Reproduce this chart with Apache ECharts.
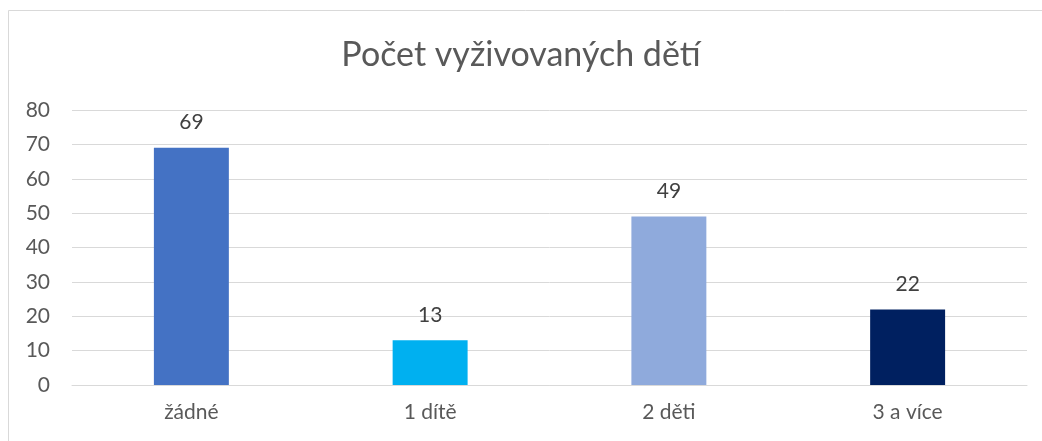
<!DOCTYPE html>
<html>
<head>
<meta charset="utf-8">
<script src="https://cdn.jsdelivr.net/npm/echarts@6/dist/echarts.min.js"></script>
<style>
  html, body { margin: 0; padding: 0; background: #fff; }
  #chart { width: 1042px; height: 441px; }
</style>
</head>
<body>
<div id="chart"></div>
<script>
const categories = ['žádné', '1 dítě', '2 děti', '3 a více']
const values = [69, 13, 49, 22]
const barColors = ['#4472C4', '#00B0F0', '#8FAADC', '#002060']
const yTicks = { min: 0, max: 80, interval: 10 }

const chart = echarts.init(document.getElementById('chart'))
const font = 'Lato, "Open Sans", sans-serif'

const option = {
  animation: false,
  backgroundColor: '#fff',
  title: {
    text: 'Počet vyživovaných dětí',
    left: 'center',
    top: 33,
    textStyle: {
      fontFamily: font,
      fontSize: 34,
      fontWeight: 'normal',
      color: '#595959'
    }
  },
  graphic: [
    {
      type: 'rect',
      shape: { x: 8.5, y: 10.5, width: 1100, height: 500 },
      style: { fill: 'none', stroke: '#D9D9D9', lineWidth: 1 },
      silent: true
    }
  ],
  grid: {
    left: 72,
    right: 15,
    top: 110,
    bottom: 56
  },
  xAxis: {
    type: 'category',
    data: categories,
    axisLine: { show: true, lineStyle: { color: '#D9D9D9', width: 1 } },
    axisTick: { show: false },
    axisLabel: {
      fontFamily: font,
      fontSize: 21,
      color: '#595959',
      margin: 17
    }
  },
  yAxis: {
    type: 'value',
    min: yTicks.min,
    max: yTicks.max,
    interval: yTicks.interval,
    axisLine: { show: false },
    axisTick: { show: false },
    axisLabel: {
      fontFamily: font,
      fontSize: 21,
      color: '#595959',
      margin: 22
    },
    splitLine: { lineStyle: { color: '#D9D9D9', width: 1 } }
  },
  series: [
    {
      type: 'bar',
      data: values.map((v, i) => ({ value: v, itemStyle: { color: barColors[i] } })),
      barWidth: '31.4%',
      label: {
        show: true,
        position: 'top',
        distance: 15,
        fontFamily: font,
        fontSize: 21,
        color: '#404040'
      }
    }
  ]
}
chart.setOption(option)
</script>
</body>
</html>
